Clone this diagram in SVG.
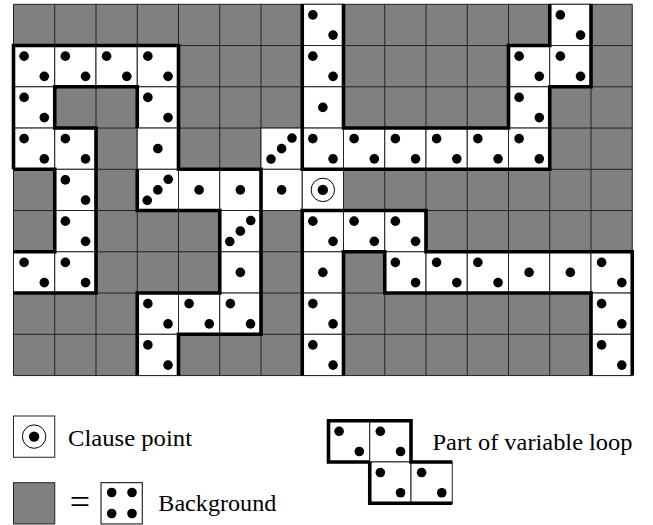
<svg xmlns="http://www.w3.org/2000/svg" width="653" height="525" viewBox="0 0 653 525">
<style>
.bg{fill:#808080;stroke:none}
.grid{fill:none;stroke:#222;stroke-width:1}
.thick{fill:none;stroke:#000;stroke-width:3.6;stroke-linejoin:miter;stroke-linecap:butt}
.dot{fill:#000}
text{font-family:'Liberation Serif','DejaVu Serif','Times New Roman',serif}
</style>
<defs>
<g id="c2"><rect width="41.25" height="41.25" fill="#fff" stroke="#222" stroke-width="1"/><circle class="dot" cx="10.6" cy="10.6" r="4.8"/><circle class="dot" cx="30.8" cy="30.8" r="4.8"/></g>
<g id="c1"><rect width="41.25" height="41.25" fill="#fff" stroke="#222" stroke-width="1"/><circle class="dot" cx="20.6" cy="20.6" r="4.8"/></g>
<g id="cd"><rect width="41.25" height="41.25" fill="#fff" stroke="#222" stroke-width="1"/><circle class="dot" cx="10" cy="31" r="4.8"/><circle class="dot" cx="20.6" cy="20.6" r="4.8"/><circle class="dot" cx="31" cy="10" r="4.8"/></g>
<g id="cc"><rect width="41.25" height="41.25" fill="#fff" stroke="#222" stroke-width="1"/><circle cx="20.6" cy="20.6" r="11.7" fill="none" stroke="#000" stroke-width="1"/><circle class="dot" cx="20.6" cy="20.6" r="5.2"/></g>
</defs>

<g id="board" transform="translate(13.5,4.3)">
<rect class="bg" x="0" y="0" width="618.75" height="371.25"/>
<path class="grid" d="M0,0V371.25M41.25,0V371.25M82.5,0V371.25M123.75,0V371.25M165,0V371.25M206.25,0V371.25M247.5,0V371.25M288.75,0V371.25M330,0V371.25M371.25,0V371.25M412.5,0V371.25M453.75,0V371.25M495,0V371.25M536.25,0V371.25M577.5,0V371.25M618.75,0V371.25M0,0H618.75M0,41.25H618.75M0,82.5H618.75M0,123.75H618.75M0,165H618.75M0,206.25H618.75M0,247.5H618.75M0,288.75H618.75M0,330H618.75M0,371.25H618.75"/>

<g id="cells">
<use href="#c2" x="288.75" y="0"/><use href="#c2" x="536.25" y="0"/>
<use href="#c2" x="0" y="41.25"/><use href="#c2" x="41.25" y="41.25"/><use href="#c2" x="82.5" y="41.25"/><use href="#c2" x="123.75" y="41.25"/><use href="#c2" x="288.75" y="41.25"/><use href="#c2" x="495" y="41.25"/><use href="#c2" x="536.25" y="41.25"/>
<use href="#c2" x="0" y="82.5"/><use href="#c2" x="123.75" y="82.5"/><use href="#c1" x="288.75" y="82.5"/><use href="#c2" x="495" y="82.5"/>
<use href="#c2" x="0" y="123.75"/><use href="#c2" x="41.25" y="123.75"/><use href="#c1" x="123.75" y="123.75"/><use href="#cd" x="247.5" y="123.75"/><use href="#c2" x="288.75" y="123.75"/><use href="#c2" x="330" y="123.75"/><use href="#c2" x="371.25" y="123.75"/><use href="#c2" x="412.5" y="123.75"/><use href="#c2" x="453.75" y="123.75"/><use href="#c2" x="495" y="123.75"/>
<use href="#c2" x="41.25" y="165"/><use href="#cd" x="123.75" y="165"/><use href="#c1" x="165" y="165"/><use href="#c1" x="206.25" y="165"/><use href="#c1" x="247.5" y="165"/><use href="#cc" x="288.75" y="165"/>
<use href="#c2" x="41.25" y="206.25"/><use href="#cd" x="206.25" y="206.25"/><use href="#c2" x="288.75" y="206.25"/><use href="#c2" x="330" y="206.25"/><use href="#c2" x="371.25" y="206.25"/>
<use href="#c2" x="0" y="247.5"/><use href="#c2" x="41.25" y="247.5"/><use href="#c1" x="206.25" y="247.5"/><use href="#c1" x="288.75" y="247.5"/><use href="#c2" x="371.25" y="247.5"/><use href="#c2" x="412.5" y="247.5"/><use href="#c2" x="453.75" y="247.5"/><use href="#c1" x="495" y="247.5"/><use href="#c1" x="536.25" y="247.5"/><use href="#c2" x="577.5" y="247.5"/>
<use href="#c2" x="123.75" y="288.75"/><use href="#c2" x="165" y="288.75"/><use href="#c2" x="206.25" y="288.75"/><use href="#c2" x="288.75" y="288.75"/><use href="#c2" x="577.5" y="288.75"/>
<use href="#c2" x="123.75" y="330"/><use href="#c2" x="288.75" y="330"/><use href="#c2" x="577.5" y="330"/>
</g>

<g id="loops">
<path class="thick" d="M0,165V41.25H165V165H247.5V330H165V371.25"/>
<path class="thick" d="M0,165H41.25V247.5H0"/>
<path class="thick" d="M123.75,123.75V82.5H41.25V123.75H82.5V288.75H0"/>
<path class="thick" d="M123.75,165V206.25H206.25V288.75H123.75V371.25"/>
<path class="thick" d="M288.75,0V165H536.25V82.5H577.5V0"/>
<path class="thick" d="M330,0V123.75H495V41.25H536.25V0"/>
<path class="thick" d="M288.75,371.25V206.25H412.5V247.5H618.75V371.25"/>
<path class="thick" d="M330,371.25V247.5H371.25V288.75H577.5V371.25"/>
</g>
</g>

<g id="legend-clause">
<use href="#cc" x="13.5" y="416"/>
<text x="68" y="446" font-size="23" textLength="124" lengthAdjust="spacingAndGlyphs">Clause point</text>
</g>

<g id="legend-background">
<rect x="13.5" y="482.7" width="41.25" height="41.25" fill="#808080" stroke="#222" stroke-width="1"/>
<text x="80" y="514" font-size="36" text-anchor="middle">=</text>
<g transform="translate(101,482.7)">
<rect width="41.25" height="41.25" fill="#fff" stroke="#000" stroke-width="1"/>
<circle class="dot" cx="10.7" cy="9.8" r="4.8"/><circle class="dot" cx="31" cy="9.8" r="4.8"/>
<circle class="dot" cx="10.7" cy="30.8" r="4.8"/><circle class="dot" cx="31" cy="30.8" r="4.8"/>
</g>
<text x="158.3" y="511" font-size="23" textLength="118" lengthAdjust="spacingAndGlyphs">Background</text>
</g>

<g id="legend-loop">
<use href="#c2" x="328.5" y="420.7"/><use href="#c2" x="369.75" y="420.7"/>
<use href="#c2" x="369.75" y="461.95"/><use href="#c2" x="411" y="461.95"/>
<path class="thick" d="M369.75,461.95H328.5V420.7H411V461.95H452.25"/>
<path class="thick" d="M369.75,461.95V503.2H452.25"/>
<text x="432.5" y="450" font-size="23" textLength="200" lengthAdjust="spacingAndGlyphs">Part of variable loop</text>
</g>
</svg>
